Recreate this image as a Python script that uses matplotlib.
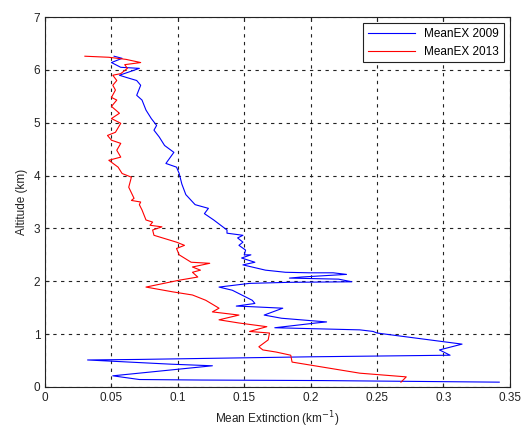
import matplotlib
matplotlib.use("Agg")
import matplotlib.pyplot as plt

# MeanEX 2009 (blue)
ex2009 = [0.342, 0.209, 0.118, 0.071, 0.051, 0.126, 0.095, 0.032, 0.070, 0.200,
          0.305, 0.297, 0.314, 0.250, 0.247, 0.237, 0.173, 0.204, 0.212, 0.178,
          0.165, 0.179, 0.154, 0.144, 0.158, 0.156, 0.141, 0.131, 0.154, 0.184,
          0.231, 0.221, 0.184, 0.193, 0.227, 0.217, 0.199, 0.181, 0.166, 0.149,
          0.158, 0.148, 0.155, 0.150, 0.151, 0.146, 0.149, 0.145, 0.149, 0.137,
          0.137, 0.127, 0.120, 0.123, 0.113, 0.106, 0.103, 0.101,
          0.099, 0.091, 0.097, 0.090, 0.086, 0.082, 0.084, 0.080, 0.076, 0.073,
          0.069, 0.072, 0.069, 0.061, 0.056, 0.063, 0.071, 0.057, 0.050, 0.058,
          0.052]
alt2009 = [0.09, 0.12, 0.13, 0.14, 0.21, 0.40, 0.43, 0.51, 0.52, 0.57,
           0.60, 0.70, 0.81, 1.02, 1.05, 1.08, 1.12, 1.21, 1.23, 1.30,
           1.36, 1.49, 1.52, 1.53, 1.58, 1.64, 1.83, 1.89, 1.96, 1.98,
           1.99, 2.04, 2.06, 2.08, 2.13, 2.16, 2.16, 2.17, 2.21, 2.31,
           2.36, 2.44, 2.50, 2.50, 2.59, 2.68, 2.74, 2.82, 2.87, 2.91,
           2.97, 3.16, 3.28, 3.38, 3.45, 3.64, 3.84, 4.04,
           4.16, 4.23, 4.44, 4.57, 4.73, 4.86, 4.95, 5.08, 5.24, 5.43,
           5.52, 5.71, 5.80, 5.86, 5.90, 5.96, 6.03, 6.05, 6.14, 6.22,
           6.26]

# MeanEX 2013 (red)
ex2013 = [0.268, 0.272, 0.237, 0.186, 0.185, 0.174, 0.164, 0.161, 0.168, 0.169,
          0.154, 0.167, 0.146, 0.131, 0.146, 0.126, 0.131, 0.121, 0.111, 0.096,
          0.076, 0.101, 0.115, 0.111, 0.117, 0.111, 0.124, 0.110, 0.101, 0.099,
          0.105, 0.099, 0.082, 0.081, 0.088, 0.079, 0.081, 0.076, 0.073, 0.071,
          0.072, 0.065, 0.067, 0.063, 0.065, 0.058, 0.055, 0.048, 0.057, 0.054,
          0.057, 0.050, 0.047, 0.053, 0.057, 0.050, 0.056, 0.050, 0.054, 0.050,
          0.053, 0.051, 0.054, 0.051, 0.057, 0.062, 0.060, 0.072, 0.061, 0.048,
          0.030]
alt2013 = [0.09, 0.19, 0.26, 0.47, 0.60, 0.66, 0.70, 0.76, 0.89, 1.02,
           1.05, 1.14, 1.21, 1.27, 1.36, 1.42, 1.49, 1.64, 1.74, 1.80,
           1.89, 2.02, 2.08, 2.17, 2.21, 2.27, 2.34, 2.36, 2.50, 2.62,
           2.68, 2.74, 2.87, 2.97, 3.03, 3.06, 3.12, 3.16, 3.35, 3.45,
           3.50, 3.53, 3.57, 3.78, 3.97, 4.04, 4.16, 4.29, 4.35, 4.48,
           4.61, 4.67, 4.76, 4.82, 4.99, 5.08, 5.18, 5.31, 5.43, 5.48,
           5.62, 5.71, 5.80, 5.90, 5.93, 6.03, 6.10, 6.14, 6.20, 6.24,
           6.26]

xticks = [0, 0.05, 0.1, 0.15, 0.2, 0.25, 0.3, 0.35]
xticklabels = ["0", "0.05", "0.1", "0.15", "0.2", "0.25", "0.3", "0.35"]
yticks = [0, 1, 2, 3, 4, 5, 6, 7]

plt.rcParams['font.family'] = ['Liberation Sans', 'DejaVu Sans']
fig = plt.figure(figsize=(5.24, 4.28), dpi=100)
ax = fig.add_axes([0.086, 0.096, 0.887, 0.864])

ax.plot(ex2009, alt2009, color='#0000ff', lw=0.8, label='MeanEX 2009')
ax.plot(ex2013, alt2013, color='#ff0000', lw=0.8, label='MeanEX 2013')

ax.set_xlim(0, 0.35)
ax.set_ylim(0, 7)
ax.set_xticks(xticks)
ax.set_xticklabels(xticklabels)
ax.set_yticks(yticks)
ax.tick_params(direction='in', labelsize=8.5, length=3, top=True, right=True,
               colors='#222222')
ax.grid(True, color='#222222', linestyle=(0, (3, 4)), linewidth=0.8)
ax.set_xlabel('Mean Extinction (km$^{-1}$)', fontsize=8.5, color='#222222')
ax.set_ylabel('Altitude (km)', fontsize=8.5, color='#222222')
for s in ax.spines.values():
    s.set_linewidth(0.8)
    s.set_color('#222222')

leg = ax.legend(loc='upper right', fontsize=8.5, fancybox=False, framealpha=1,
                edgecolor='#222222', borderaxespad=0.5, handlelength=4.0)
leg.get_frame().set_linewidth(0.8)

fig.savefig('out.png', dpi=100)
